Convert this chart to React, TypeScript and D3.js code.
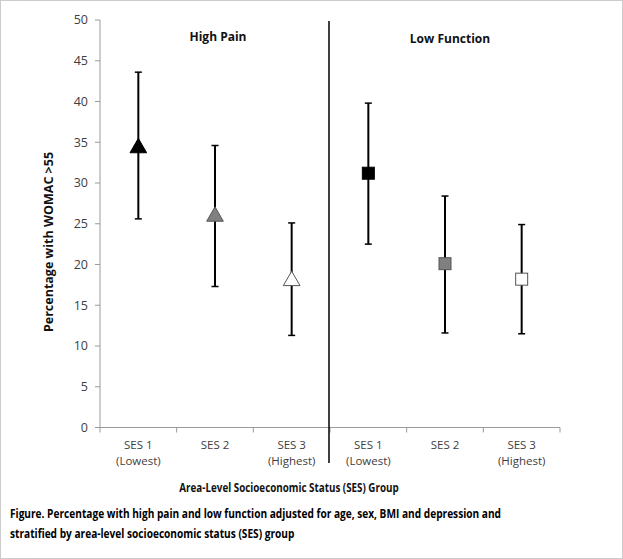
import React, { useEffect, useRef } from "react";
import * as d3 from "d3";

const categories = ["HP1", "HP2", "HP3", "LF1", "LF2", "LF3"];
const tickLine1 = ["SES 1", "SES 2", "SES 3", "SES 1", "SES 2", "SES 3"];
const tickLine2 = ["(Lowest)", "", "(Highest)", "(Lowest)", "", "(Highest)"];
const estimates = [34.3, 25.9, 18.0, 31.2, 20.1, 18.2];
const upper = [43.6, 34.6, 25.1, 39.8, 28.4, 24.9];
const lower = [25.6, 17.3, 11.3, 22.5, 11.6, 11.5];
const markerShape = ["tri", "tri", "tri", "sq", "sq", "sq"];
const markerFill = ["#000000", "#808080", "#ffffff", "#000000", "#808080", "#ffffff"];
const yTicks = [0, 5, 10, 15, 20, 25, 30, 35, 40, 45, 50];
const panelTitles = ["High Pain", "Low Function"];

export default function App() {
  const ref = useRef<SVGSVGElement>(null);
  useEffect(() => {
    const svg = d3.select(ref.current);
    svg.selectAll("*").remove();
    const W = 623, H = 559;
    const font = "'Open Sans', 'Liberation Sans', sans-serif";
    svg.append("rect").attr("x", 0.5).attr("y", 0.5).attr("width", W - 1).attr("height", H - 1)
      .attr("fill", "#fff").attr("stroke", "#999").attr("stroke-dasharray", "1,1");

    const x = d3.scaleBand().domain(categories).range([100, 560]);
    const y = d3.scaleLinear().domain([0, 50]).range([427.5, 20]);

    const g = svg.append("g");
    g.append("line").attr("x1", 100).attr("x2", 100).attr("y1", y(50)).attr("y2", y(0))
      .attr("stroke", "#9a9a9a").attr("stroke-width", 1);
    yTicks.forEach(t => {
      g.append("line").attr("x1", 95).attr("x2", 100).attr("y1", y(t)).attr("y2", y(t)).attr("stroke", "#9a9a9a");
      g.append("text").attr("x", 88).attr("y", y(t)).attr("dy", "0.35em").attr("text-anchor", "end")
        .attr("font-family", font).attr("font-size", 12.5).attr("fill", "#404040").text(String(t));
    });
    g.append("line").attr("x1", 100).attr("x2", 560).attr("y1", y(0)).attr("y2", y(0))
      .attr("stroke", "#9a9a9a");
    const bounds = categories.map(c => x(c)!).concat([560]);
    bounds.forEach(b => {
      g.append("line").attr("x1", b).attr("x2", b).attr("y1", y(0)).attr("y2", y(0) + 5).attr("stroke", "#9a9a9a");
    });
    categories.forEach((c, i) => {
      const cx = x(c)! + x.bandwidth() / 2;
      g.append("text").attr("x", cx).attr("y", 449).attr("text-anchor", "middle")
        .attr("font-family", font).attr("font-size", 11.5).attr("fill", "#404040").text(tickLine1[i]);
      if (tickLine2[i]) g.append("text").attr("x", cx).attr("y", 465).attr("text-anchor", "middle")
        .attr("font-family", font).attr("font-size", 11.5).attr("fill", "#404040").text(tickLine2[i]);
    });

    g.append("line").attr("x1", 329).attr("x2", 329).attr("y1", 21).attr("y2", 463)
      .attr("stroke", "#000").attr("stroke-width", 1.5);

    g.append("text").attr("x", 218).attr("y", 41).attr("text-anchor", "middle").attr("font-family", font)
      .attr("font-weight", "bold").attr("font-size", 12).attr("fill", "#111").text(panelTitles[0]);
    g.append("text").attr("x", 450).attr("y", 43).attr("text-anchor", "middle").attr("font-family", font)
      .attr("font-weight", "bold").attr("font-size", 12).attr("fill", "#111").text(panelTitles[1]);

    categories.forEach((c, i) => {
      const cx = x(c)! + x.bandwidth() / 2;
      g.append("line").attr("x1", cx).attr("x2", cx).attr("y1", y(upper[i])).attr("y2", y(lower[i]))
        .attr("stroke", "#000").attr("stroke-width", 2);
      [upper[i], lower[i]].forEach(v => {
        g.append("line").attr("x1", cx - 3.5).attr("x2", cx + 3.5).attr("y1", y(v)).attr("y2", y(v))
          .attr("stroke", "#000").attr("stroke-width", 1.5);
      });
      const cy = y(estimates[i]);
      if (markerShape[i] === "tri") {
        const p = d3.symbol(d3.symbolTriangle, 120)();
        g.append("path").attr("d", p).attr("transform", `translate(${cx},${cy})`)
          .attr("fill", markerFill[i]).attr("stroke", i === 0 ? "#000" : "#555").attr("stroke-width", 1);
      } else {
        g.append("rect").attr("x", cx - 6).attr("y", cy - 6).attr("width", 12).attr("height", 12)
          .attr("fill", markerFill[i]).attr("stroke", i === 3 ? "#000" : "#555").attr("stroke-width", 1);
      }
    });

    g.append("text").attr("transform", `translate(53,242) rotate(-90)`).attr("text-anchor", "middle")
      .attr("font-family", font).attr("font-weight", "bold").attr("font-size", 12.5).attr("fill", "#111")
      .text("Percentage with WOMAC >55");
    g.append("text").attr("transform", "translate(289,492) scale(0.855,1)").attr("text-anchor", "middle")
      .attr("font-family", font).attr("font-weight", "bold").attr("font-size", 11.5).attr("fill", "#111")
      .text("Area-Level Socioeconomic Status (SES) Group");
    g.append("text").attr("transform", "translate(10,518) scale(0.78,1)").attr("font-family", font).attr("font-weight", "bold")
      .attr("font-size", 13).attr("fill", "#000")
      .text("Figure. Percentage with high pain and low function adjusted for age, sex, BMI and depression and");
    g.append("text").attr("transform", "translate(10,538) scale(0.78,1)").attr("font-family", font).attr("font-weight", "bold")
      .attr("font-size", 13).attr("fill", "#000")
      .text("stratified by area-level socioeconomic status (SES) group");
  }, []);
  return <svg ref={ref} width={623} height={559} style={{ position: "absolute", left: 0, top: 0, display: "block" }} />;
}
